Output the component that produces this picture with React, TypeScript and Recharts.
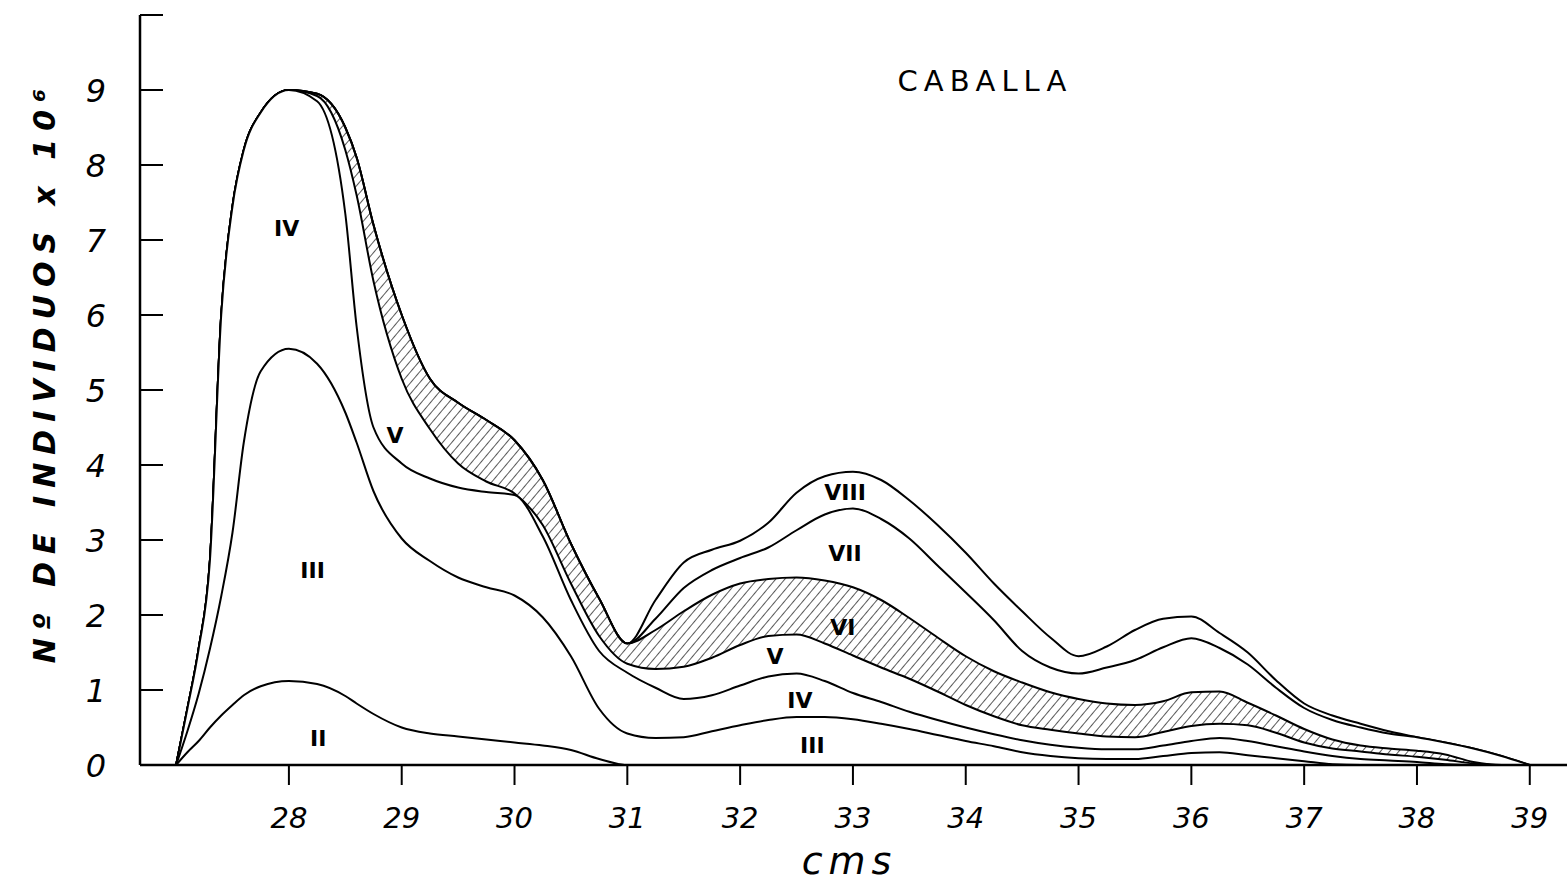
import React from "react";
import { AreaChart, Area, XAxis, YAxis, ReferenceDot } from "recharts";

// length classes (cm) sampled along the x axis
const lengths = [
  27, 27.1, 27.2, 27.3, 27.4, 27.5, 27.6, 27.75,
  28, 28.25, 28.5, 28.6, 28.75,
  29, 29.25, 29.5, 29.75, 30, 30.25, 30.5, 30.75, 31,
  31.25, 31.5, 31.75, 32, 32.25, 32.5, 32.75, 33,
  33.25, 33.5, 33.75, 34, 34.25, 34.5, 34.75, 35,
  35.25, 35.5, 35.75, 36, 36.25, 36.5, 36.75, 37,
  37.25, 37.5, 37.75, 38, 38.25, 38.5, 38.75, 39,
];

// cumulative curve heights (x 10^6 individuals), one curve per age group top
const topII = [
  0, 0.17, 0.32, 0.5, 0.66, 0.8, 0.93, 1.05,
  1.12, 1.08, 0.92, 0.82, 0.68,
  0.5, 0.42, 0.38, 0.34, 0.3, 0.26, 0.2, 0.08, 0,
  0, 0, 0, 0, 0, 0, 0, 0,
  0, 0, 0, 0, 0, 0, 0, 0,
  0, 0, 0, 0, 0, 0, 0, 0,
  0, 0, 0, 0, 0, 0, 0, 0,
];
const topIII = [
  0, 0.45, 0.95, 1.55, 2.25, 3.1, 4.3, 5.25,
  5.55, 5.35, 4.7, 4.3, 3.65,
  3.02, 2.72, 2.5, 2.37, 2.26, 1.97, 1.45, 0.75, 0.42,
  0.36, 0.37, 0.45, 0.53, 0.6, 0.64, 0.64, 0.61,
  0.55, 0.48, 0.4, 0.32, 0.25, 0.17, 0.12, 0.09,
  0.08, 0.08, 0.12, 0.16, 0.17, 0.13, 0.09, 0.05,
  0.01, 0, 0, 0, 0, 0, 0, 0,
];
const topIV = [
  0, 0.75, 1.55, 2.73, 6.0, 7.45, 8.2, 8.7,
  9.0, 8.85, 7.35, 5.85, 4.5,
  4.02, 3.82, 3.7, 3.64, 3.6, 3.05, 2.2, 1.52, 1.23,
  1.03, 0.88, 0.93, 1.06, 1.18, 1.22, 1.12, 0.96,
  0.84, 0.71, 0.6, 0.5, 0.41, 0.33, 0.27, 0.23,
  0.21, 0.21, 0.26, 0.32, 0.36, 0.32, 0.25, 0.18,
  0.12, 0.08, 0.06, 0.04, 0.01, 0, 0, 0,
];
const topV = [
  0, 0.75, 1.55, 2.73, 6.0, 7.45, 8.2, 8.7,
  9.0, 8.92, 8.2, 7.6, 6.45,
  5.15, 4.48, 4.02, 3.78, 3.62, 3.2, 2.42, 1.72, 1.35,
  1.28, 1.31, 1.43, 1.6, 1.72, 1.74, 1.62, 1.46,
  1.3, 1.15, 0.98, 0.8, 0.65, 0.53, 0.47, 0.42,
  0.38, 0.37, 0.44, 0.52, 0.55, 0.53, 0.43, 0.3,
  0.22, 0.18, 0.14, 0.11, 0.07, 0.02, 0, 0,
];
const topVI = [
  0, 0.75, 1.55, 2.73, 6.0, 7.45, 8.2, 8.7,
  9.0, 8.95, 8.5, 8.1, 7.2,
  6.0, 5.15, 4.83, 4.6, 4.33, 3.8, 2.95, 2.22, 1.62,
  1.8, 2.05, 2.27, 2.42, 2.48, 2.5, 2.46, 2.37,
  2.2, 1.96, 1.7, 1.45, 1.25, 1.1, 0.97, 0.88,
  0.82, 0.8, 0.85, 0.97, 0.98, 0.83, 0.66, 0.48,
  0.34, 0.26, 0.22, 0.19, 0.14, 0.04, 0, 0,
];
const topVII = [
  0, 0.75, 1.55, 2.73, 6.0, 7.45, 8.2, 8.7,
  9.0, 8.95, 8.5, 8.1, 7.2,
  6.0, 5.15, 4.83, 4.6, 4.33, 3.8, 2.95, 2.22, 1.62,
  1.95, 2.36, 2.6, 2.76, 2.9, 3.13, 3.34, 3.42,
  3.28, 3.02, 2.66, 2.3, 1.93, 1.52, 1.3, 1.22,
  1.3, 1.4, 1.57, 1.69, 1.56, 1.34, 1.03, 0.76,
  0.6, 0.5, 0.42, 0.37, 0.3, 0.22, 0.12, 0,
];
const topVIII = [
  0, 0.75, 1.55, 2.73, 6.0, 7.45, 8.2, 8.7,
  9.0, 8.95, 8.5, 8.1, 7.2,
  6.0, 5.15, 4.83, 4.6, 4.33, 3.8, 2.95, 2.22, 1.62,
  2.2, 2.7, 2.87, 2.99, 3.23, 3.63, 3.85, 3.91,
  3.8, 3.53, 3.2, 2.83, 2.42, 2.05, 1.7, 1.45,
  1.58, 1.8, 1.95, 1.98, 1.76, 1.5, 1.13, 0.82,
  0.66, 0.55, 0.45, 0.37, 0.3, 0.22, 0.12, 0,
];

const xTicks = [28, 29, 30, 31, 32, 33, 34, 35, 36, 37, 38, 39];
const yTicks = [0, 1, 2, 3, 4, 5, 6, 7, 8, 9, 10];

// roman numeral age-group labels written inside the bands
const groupLabels = [
  { text: "IV", x: 27.98, y: 7.16 },
  { text: "III", x: 28.21, y: 2.6 },
  { text: "II", x: 28.26, y: 0.36 },
  { text: "V", x: 28.94, y: 4.4 },
  { text: "VIII", x: 32.93, y: 3.64 },
  { text: "VII", x: 32.93, y: 2.83 },
  { text: "VI", x: 32.91, y: 1.84 },
  { text: "V", x: 32.31, y: 1.45 },
  { text: "IV", x: 32.53, y: 0.87 },
  { text: "III", x: 32.64, y: 0.27 },
];

const data = lengths.map((x, i) => ({
  x,
  II: topII[i],
  III: topIII[i],
  IV: topIV[i],
  V: topV[i],
  VI: topVI[i],
  VII: topVII[i],
  VIII: topVIII[i],
}));

const FONT = "'DejaVu Sans', sans-serif";
const PLOT_LEFT = 140;

function YTick(props: any) {
  const { y, payload } = props;
  return (
    <g>
      <line x1={PLOT_LEFT} x2={PLOT_LEFT + 23} y1={y} y2={y} stroke="#000" strokeWidth={2} />
      {payload.value < 10 && (
        <text x={96} y={y} dy={12} textAnchor="middle" fontFamily={FONT} fontSize={32} fontStyle="italic" fill="#000">
          {payload.value}
        </text>
      )}
    </g>
  );
}

function XTick(props: any) {
  const { x, y, payload } = props;
  return (
    <text x={x} y={y} dy={41} textAnchor="middle" fontFamily={FONT} fontSize={29} fontStyle="italic" fill="#000">
      {payload.value}
    </text>
  );
}

function YTitle(props: any) {
  const { viewBox } = props;
  const cx = 44;
  const cy = viewBox.y + viewBox.height / 2 - 18;
  return (
    <text
      x={cx}
      y={cy}
      transform={`rotate(-90 ${cx} ${cy})`}
      textAnchor="middle"
      dominantBaseline="central"
      fontFamily={FONT}
      fontSize={30}
      fontWeight="bold"
      fontStyle="italic"
      letterSpacing={8}
      fill="#000"
    >
      Nº DE INDIVIDUOS x 10⁶
    </text>
  );
}

function XTitle(props: any) {
  const { viewBox } = props;
  return (
    <text
      x={viewBox.x + viewBox.width / 2 - 4}
      y={viewBox.y + 109}
      textAnchor="middle"
      fontFamily={FONT}
      fontSize={38}
      fontStyle="italic"
      letterSpacing={6}
      fill="#000"
    >
      cms
    </text>
  );
}

const curve = {
  type: "monotone" as const,
  stroke: "#000",
  strokeWidth: 2,
  fillOpacity: 1,
  dot: false,
  activeDot: false,
  isAnimationActive: false,
};

export default function App() {
  return (
    <div style={{ position: "absolute", left: 0, top: 0, width: 1567, height: 886, background: "#fff" }}>
      <AreaChart width={1567} height={886} data={data} margin={{ top: 15, right: 0, left: 0, bottom: 0 }}>
        <defs>
          <pattern id="hatch" patternUnits="userSpaceOnUse" width={7} height={7} patternTransform="rotate(40)">
            <line x1={0} y1={0} x2={0} y2={7} stroke="#000" strokeWidth={1.3} />
          </pattern>
        </defs>
        <XAxis
          type="number"
          dataKey="x"
          domain={[26.68, 39.33]}
          ticks={xTicks}
          allowDataOverflow
          height={121}
          tickSize={20}
          tickLine={{ stroke: "#000", strokeWidth: 2 }}
          axisLine={{ stroke: "#000", strokeWidth: 2.5 }}
          tick={<XTick />}
          label={<XTitle />}
        />
        <YAxis
          type="number"
          domain={[0, 10]}
          ticks={yTicks}
          allowDataOverflow
          width={140}
          tickLine={false}
          axisLine={{ stroke: "#000", strokeWidth: 2.5 }}
          tick={<YTick />}
          label={<YTitle />}
        />
        <Area {...curve} dataKey="VIII" fill="#fff" />
        <Area {...curve} dataKey="VII" fill="#fff" />
        <Area {...curve} dataKey="VI" fill="url(#hatch)" />
        <Area {...curve} dataKey="V" fill="#fff" />
        <Area {...curve} dataKey="IV" fill="#fff" />
        <Area {...curve} dataKey="III" fill="#fff" />
        <Area {...curve} dataKey="II" fill="#fff" />
        {groupLabels.map((g, i) => (
          <ReferenceDot
            key={i}
            x={g.x}
            y={g.y}
            r={1}
            fill="none"
            stroke="none"
            label={{ value: g.text, position: "center", fontFamily: FONT, fontSize: 22, fontWeight: "bold", fill: "#000" }}
          />
        ))}
        <ReferenceDot
          x={34.17}
          y={9.13}
          r={1}
          fill="none"
          stroke="none"
          label={{ value: "CABALLA", position: "center", fontFamily: FONT, fontSize: 29, letterSpacing: 6, fill: "#000" }}
        />
      </AreaChart>
    </div>
  );
}
